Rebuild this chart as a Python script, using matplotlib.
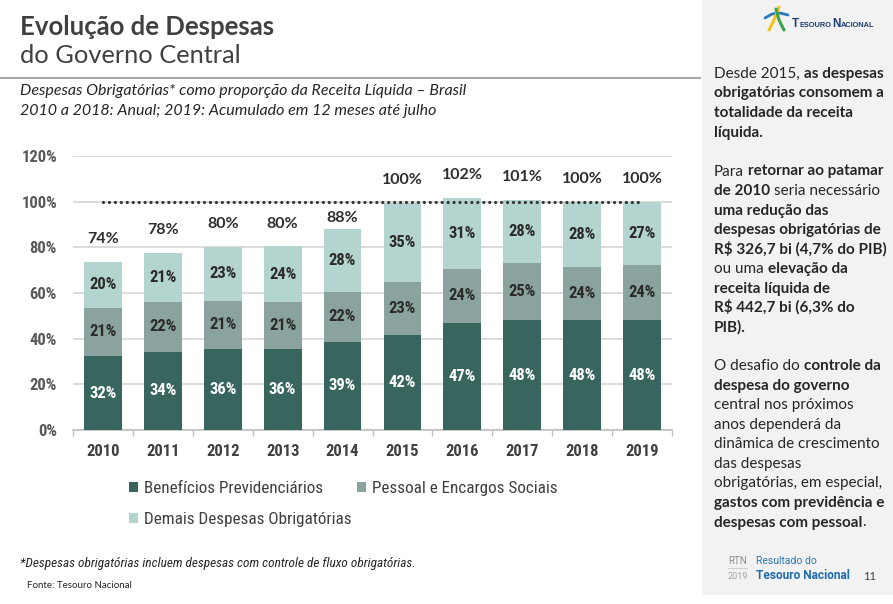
import matplotlib
matplotlib.use('Agg')
import numpy as np
import matplotlib.pyplot as plt
from matplotlib import font_manager
from matplotlib.patches import Rectangle

# dados (% da receita liquida)
anos = ['2010', '2011', '2012', '2013', '2014', '2015', '2016', '2017', '2018', '2019']
beneficios = [32.4, 34.2, 35.6, 35.6, 38.7, 41.7, 47.0, 48.0, 48.0, 48.0]
pessoal = [21.2, 21.9, 21.1, 20.6, 21.7, 23.1, 23.6, 25.0, 23.6, 24.4]
demais = [20.0, 21.3, 23.3, 24.2, 27.6, 34.8, 31.1, 27.6, 28.4, 27.4]
totais = [74, 78, 80, 80, 88, 100, 102, 101, 100, 100]
yticks = [0, 20, 40, 60, 80, 100, 120]
limite = 100

series = ['Benefícios Previdenciários', 'Pessoal e Encargos Sociais', 'Demais Despesas Obrigatórias']
cores = ['#38665e', '#8ba39e', '#b3d4cf']

# fonte estreita (tipo Arial Narrow) se houver
fontes = font_manager.fontManager.ttflist
nomes = {f.name for f in fontes}
NARROW, STRETCH, ESTREITA = 'Liberation Sans', 'normal', False
for fam in ['Roboto Condensed', 'Liberation Sans Narrow', 'Arial Narrow', 'Noto Sans Condensed',
            'Open Sans Condensed', 'DejaVu Sans Condensed']:
    if fam in nomes:
        NARROW, ESTREITA = fam, True
        break
if not ESTREITA:
    for fam in ['Roboto', 'Noto Sans', 'Open Sans', 'Liberation Sans', 'DejaVu Sans']:
        if any(f.name == fam and f.stretch in ('condensed', 'semi-condensed', 'extra-condensed') for f in fontes):
            NARROW, STRETCH, ESTREITA = fam, 'condensed', True
            break
CAL = 'Lato'
k = 1.0 if ESTREITA else 0.9
NF = {'family': NARROW, 'stretch': STRETCH}

fig = plt.figure(figsize=(8.93, 6.04), dpi=100)

# fundo em coordenadas de pixel
bg = fig.add_axes([0, 0, 1, 1], zorder=0)
bg.set_xlim(0, 893)
bg.set_ylim(604, 0)
bg.axis('off')
bg.add_patch(Rectangle((702, 0), 191, 595, color='#f2f2f2', lw=0))
bg.plot([0, 700], [77.5, 77.5], color='#a6a6a6', lw=1.5)

renderer = fig.canvas.get_renderer()


def largura(txt, size, peso, family, style='normal'):
    t = bg.text(0, 0, txt, fontsize=size, fontweight=peso, family=family, fontstyle=style)
    w = t.get_window_extent(renderer).width
    t.remove()
    return w


def linha(x, y, partes, size, color='#262626', family=CAL, style='normal'):
    for txt, peso in partes:
        sp = largura('x x', size, peso, family, style) - largura('xx', size, peso, family, style)
        ls = len(txt) - len(txt.lstrip(' '))
        ts = len(txt) - len(txt.rstrip(' '))
        x += ls * sp
        t = bg.text(x, y, txt.strip(' '), fontsize=size, fontweight=peso, color=color,
                    family=family, fontstyle=style, va='baseline', ha='left')
        x += t.get_window_extent(renderer).width + ts * sp
    return x


# titulo
bg.text(20, 35, 'Evolução de Despesas', fontsize=18.5, fontweight='bold', color='#404040', family=CAL)
bg.text(20, 63, 'do Governo Central', fontsize=18.3, color='#404040', family=CAL)
bg.text(20, 95, 'Despesas Obrigatórias* como proporção da Receita Líquida – Brasil',
        fontsize=11.5, fontstyle='italic', color='#262626', family=CAL)
bg.text(20, 115, '2010 a 2018: Anual; 2019: Acumulado em 12 meses até julho',
        fontsize=11.5, fontstyle='italic', color='#262626', family=CAL)
bg.text(20, 567, '*Despesas obrigatórias incluem despesas com controle de fluxo obrigatórias.',
        fontsize=9.5 * k, fontstyle='italic', color='#262626', **NF)
bg.text(27, 588, 'Fonte: Tesouro Nacional', fontsize=7, color='#262626', family=CAL)

# painel lateral
B, N = 'bold', 'normal'
painel = [
    [('Desde 2015, ', N), ('as despesas', B)],
    [('obrigatórias consomem a', B)],
    [('totalidade da receita', B)],
    [('líquida.', B)],
    [],
    [('Para ', N), ('retornar ao patamar', B)],
    [('de 2010', B), (' seria necessário', N)],
    [('uma redução das', B)],
    [('despesas obrigatórias de', B)],
    [('R$ 326,7 bi (4,7% do PIB)', B)],
    [('ou uma ', N), ('elevação da', B)],
    [('receita líquida de', B)],
    [('R$ 442,7 bi (6,3% do', B)],
    [('PIB).', B)],
    [],
    [('O desafio do ', N), ('controle da', B)],
    [('despesa do governo', B)],
    [('central nos próximos', N)],
    [('anos dependerá da', N)],
    [('dinâmica de crescimento', N)],
    [('das despesas', N)],
    [('obrigatórias, em especial,', N)],
    [('gastos com previdência e', B)],
    [('despesas com pessoal', B), ('.', N)],
]
for i, partes in enumerate(painel):
    if partes:
        linha(714, 78 + i * 19.5, partes, 11, color='#262626')

# logo
bg.plot([765, 772, 780, 788], [18, 14, 13, 15], color='#2a7ab8', lw=2, solid_capstyle='round')
bg.plot([769, 774, 779], [30, 20, 7], color='#f2c318', lw=2.2, solid_capstyle='round')
bg.plot([776, 779, 784], [9, 20, 30], color='#3fa34d', lw=2.2, solid_capstyle='round')
LF = 'Liberation Sans'
xx = linha(792, 27, [('T', B)], 8.5, color='#1d3e72', family=LF)
xx = linha(xx + 0.3, 27, [('ESOURO', B)], 5.3, color='#1d3e72', family=LF)
xx = linha(xx + 0.5, 27, [('N', B)], 8.5, color='#1d3e72', family=LF)
linha(xx + 0.3, 27, [('ACIONAL', B)], 5.3, color='#1d3e72', family=LF)

# rodape
bg.text(728, 564, 'RTN', fontsize=7, color='#8c8c8c', family='Roboto')
bg.plot([728, 747], [567.5, 567.5], color='#d0d0d0', lw=0.8)
bg.text(728, 579, '2019', fontsize=6.5, color='#a6a6a6', family='Roboto')
bg.text(756, 564, 'Resultado do', fontsize=7.5, color='#2e75b6', family='Roboto')
bg.text(756, 579, 'Tesouro Nacional', fontsize=8.6, fontweight='bold', color='#1f6cb0', family='Roboto')
bg.text(863, 580, '11', fontsize=8, color='#404040', family=CAL)

# grafico
ax = fig.add_axes([73 / 893, 1 - 430 / 604, 599 / 893, 274 / 604], zorder=2)
ax.patch.set_alpha(0)
x = np.arange(len(anos))
base2 = np.array(beneficios)
base3 = base2 + np.array(pessoal)
topo = base3 + np.array(demais)
w = 0.63
b1 = ax.bar(x, beneficios, w, color=cores[0], label=series[0], zorder=3)
b2 = ax.bar(x, pessoal, w, bottom=base2, color=cores[1], label=series[1], zorder=3)
b3 = ax.bar(x, demais, w, bottom=base3, color=cores[2], label=series[2], zorder=3)

for cont, vals, cor in [(b1, beneficios, 'white'), (b2, pessoal, '#2b2b2b'), (b3, demais, '#2b2b2b')]:
    ax.bar_label(cont, labels=[f'{round(v)}%' for v in vals], label_type='center',
                 color=cor, fontsize=12 * k, fontweight='bold', **NF)

# rotulo do total: acima da barra, ou logo abaixo da linha pontilhada se colidir
for i, t in enumerate(totais):
    pos = topo[i] + 10
    if topo[i] < limite - 5 and pos > limite - 7:
        pos = limite - 7
    ax.text(x[i], pos, f'{t}%', ha='center', va='center', fontsize=11.5, fontweight='bold',
            color='#2e2e2e', family=CAL)

ax.plot([x[0], x[-1]], [limite, limite], color='#333333', lw=2.3,
        linestyle=(0, (0.01, 1.85)), dash_capstyle='round', zorder=4)

ax.set_xlim(-0.5, len(anos) - 0.5)
ax.set_ylim(0, 120)
ax.set_yticks(yticks)
ax.set_yticklabels([f'{v}%' for v in yticks])
ax.set_xticks(x)
ax.set_xticklabels(anos)
ax.set_xticks(np.arange(-0.5, len(anos), 1), minor=True)
ax.yaxis.grid(True, color='#d9d9d9', lw=1.3)
ax.set_axisbelow(True)
for s in ['left', 'right', 'top']:
    ax.spines[s].set_visible(False)
ax.spines['bottom'].set_color('#bfbfbf')
ax.spines['bottom'].set_linewidth(1.2)
ax.tick_params(axis='y', length=0, pad=11.5, labelsize=12 * k, labelcolor='#595959')
ax.tick_params(axis='x', which='major', length=0, pad=10, labelsize=12 * k, labelcolor='#404040')
ax.tick_params(axis='x', which='minor', length=4, width=1, color='#bfbfbf', direction='out')
for lbl in ax.get_xticklabels() + ax.get_yticklabels():
    lbl.set_fontweight('bold')
    lbl.set_family(NARROW)
    lbl.set_stretch(STRETCH)

fig.legend(handles=[b1, b3, b2], labels=[series[0], series[2], series[1]], ncol=2,
           loc='upper left', bbox_to_anchor=(129 / 893, 1 - 481 / 604), frameon=False,
           prop={'family': NARROW, 'stretch': STRETCH, 'size': 12.3 * k}, labelcolor='#404040',
           handlelength=0.5, handleheight=0.5, handletextpad=0.35,
           columnspacing=0.35, labelspacing=0.95, borderpad=0, borderaxespad=0)

fig.savefig('out.png', dpi=100)
